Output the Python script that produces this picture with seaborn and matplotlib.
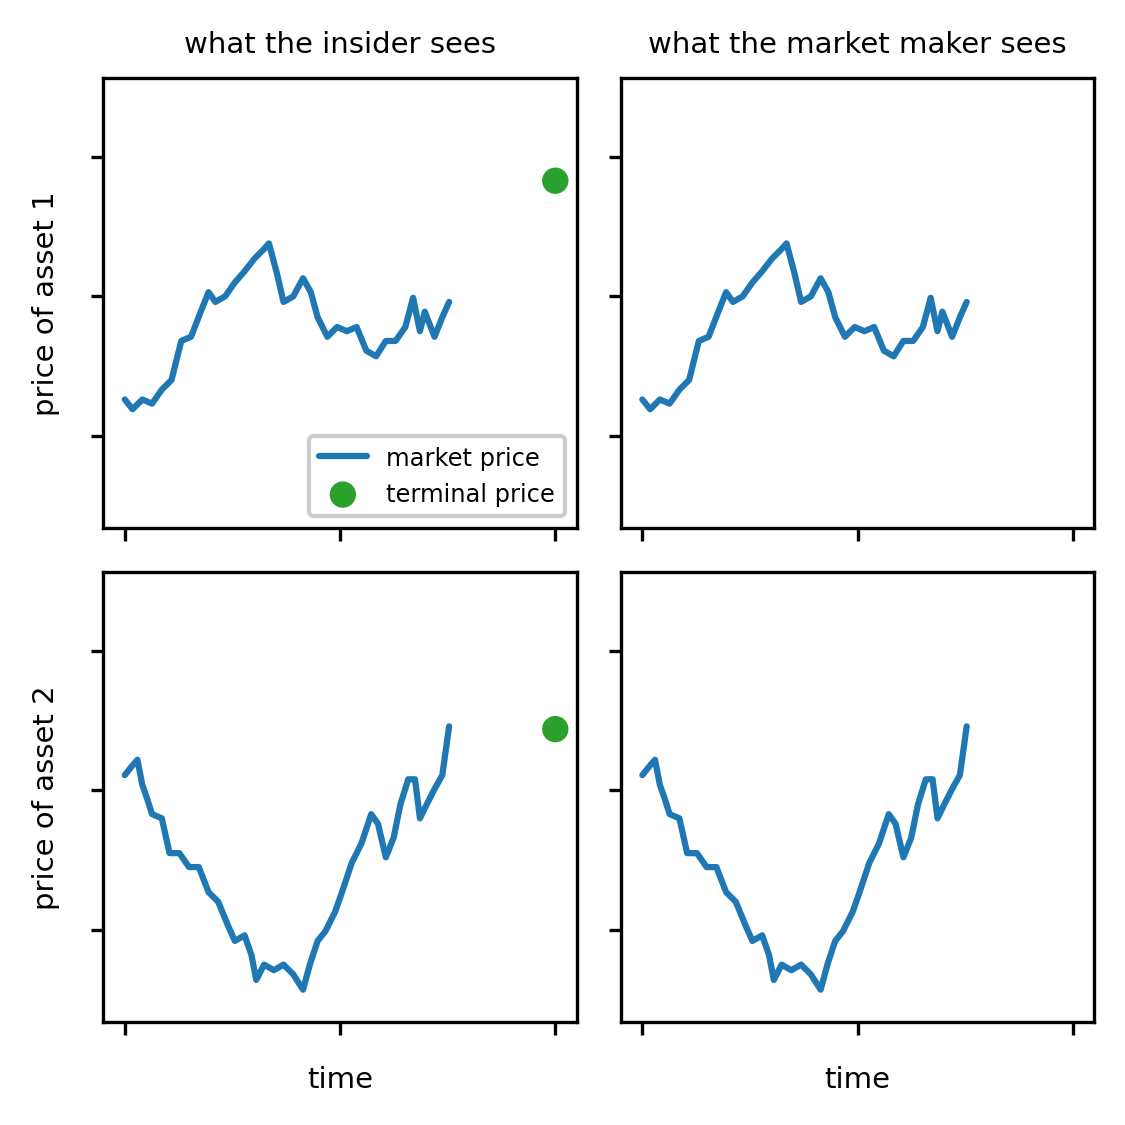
import numpy as np
import matplotlib
matplotlib.use("Agg")
import matplotlib.pyplot as plt
import seaborn as sns

sns.set_style("ticks", {"axes.edgecolor": "black", "text.color": "black",
                        "axes.labelcolor": "black", "xtick.color": "black",
                        "ytick.color": "black"})
plt.rcParams["font.family"] = ["DejaVu Sans"]
plt.rcParams["font.size"] = 7

# pixel-read waypoints converted to time / price units
t1 = [0, 8, 18, 28, 38, 48, 58, 68, 78, 86, 93, 103, 113, 123, 133, 143, 148, 156, 163, 173, 183,
      191, 198, 208, 218, 228, 238, 248, 258, 268, 278, 288, 296, 303, 308, 318, 326, 333]
p1 = [-0.74, -0.81, -0.74, -0.77, -0.67, -0.60, -0.32, -0.29, -0.11, 0.03, -0.04, 0.0, 0.10,
      0.18, 0.27, 0.34, 0.38, 0.17, -0.04, 0.0, 0.13, 0.03, -0.15, -0.29, -0.22, -0.25, -0.22,
      -0.39, -0.43, -0.32, -0.32, -0.22, -0.01, -0.25, -0.11, -0.29, -0.15, -0.04]
t2 = [0, 8, 13, 18, 23, 28, 38, 46, 56, 66, 76, 86, 96, 106, 113, 123, 130, 135, 143, 153, 163,
      173, 183, 190, 198, 206, 216, 223, 233, 243, 253, 260, 268, 276, 283, 291, 298, 303, 310,
      318, 326, 333]
p2 = [0.11, 0.18, 0.22, 0.04, -0.06, -0.17, -0.20, -0.45, -0.45, -0.55, -0.55, -0.73, -0.80,
      -0.97, -1.08, -1.04, -1.18, -1.36, -1.25, -1.29, -1.25, -1.32, -1.43, -1.25, -1.08, -1.01,
      -0.87, -0.73, -0.52, -0.38, -0.17, -0.24, -0.48, -0.34, -0.10, 0.08, 0.08, -0.20, -0.10,
      0.01, 0.11, 0.46]
time1 = np.array(t1) / 442
time2 = np.array(t2) / 442
terminal = [0.83, 0.44]

fig, axes = plt.subplots(2, 2, figsize=(3.753, 3.753), dpi=300, sharex=True, sharey=True)
for r, (tt, pp) in enumerate([(time1, p1), (time2, p2)]):
    for c in range(2):
        ax = axes[r, c]
        sns.lineplot(x=tt, y=pp, ax=ax, color="C0", lw=1.5, label="market price")
        if c == 0:
            sns.scatterplot(x=[1.0], y=[terminal[r]], ax=ax, color="C2", s=40,
                            edgecolor="none", label="terminal price", zorder=3)
        if ax.get_legend():
            ax.get_legend().remove()
        ax.set_xlim(-0.05, 1.05)
        ax.set_ylim(-1.66, 1.57)
        ax.set_xticks([0, 0.5, 1])
        ax.set_yticks([-1, 0, 1])
        ax.set_xticklabels([])
        ax.set_yticklabels([])
        ax.tick_params(length=3, width=0.8)
        for s in ax.spines.values():
            s.set_visible(True)
            s.set_linewidth(0.8)

axes[0, 0].legend(loc="lower right", fontsize=5.8, framealpha=1, edgecolor="#cccccc")
axes[0, 0].set_title("what the insider sees", fontsize=7)
axes[0, 1].set_title("what the market maker sees", fontsize=7)
axes[0, 0].set_ylabel("price of asset 1")
axes[1, 0].set_ylabel("price of asset 2")
axes[1, 0].set_xlabel("time")
axes[1, 1].set_xlabel("time")
plt.tight_layout()
plt.savefig("out.png")
